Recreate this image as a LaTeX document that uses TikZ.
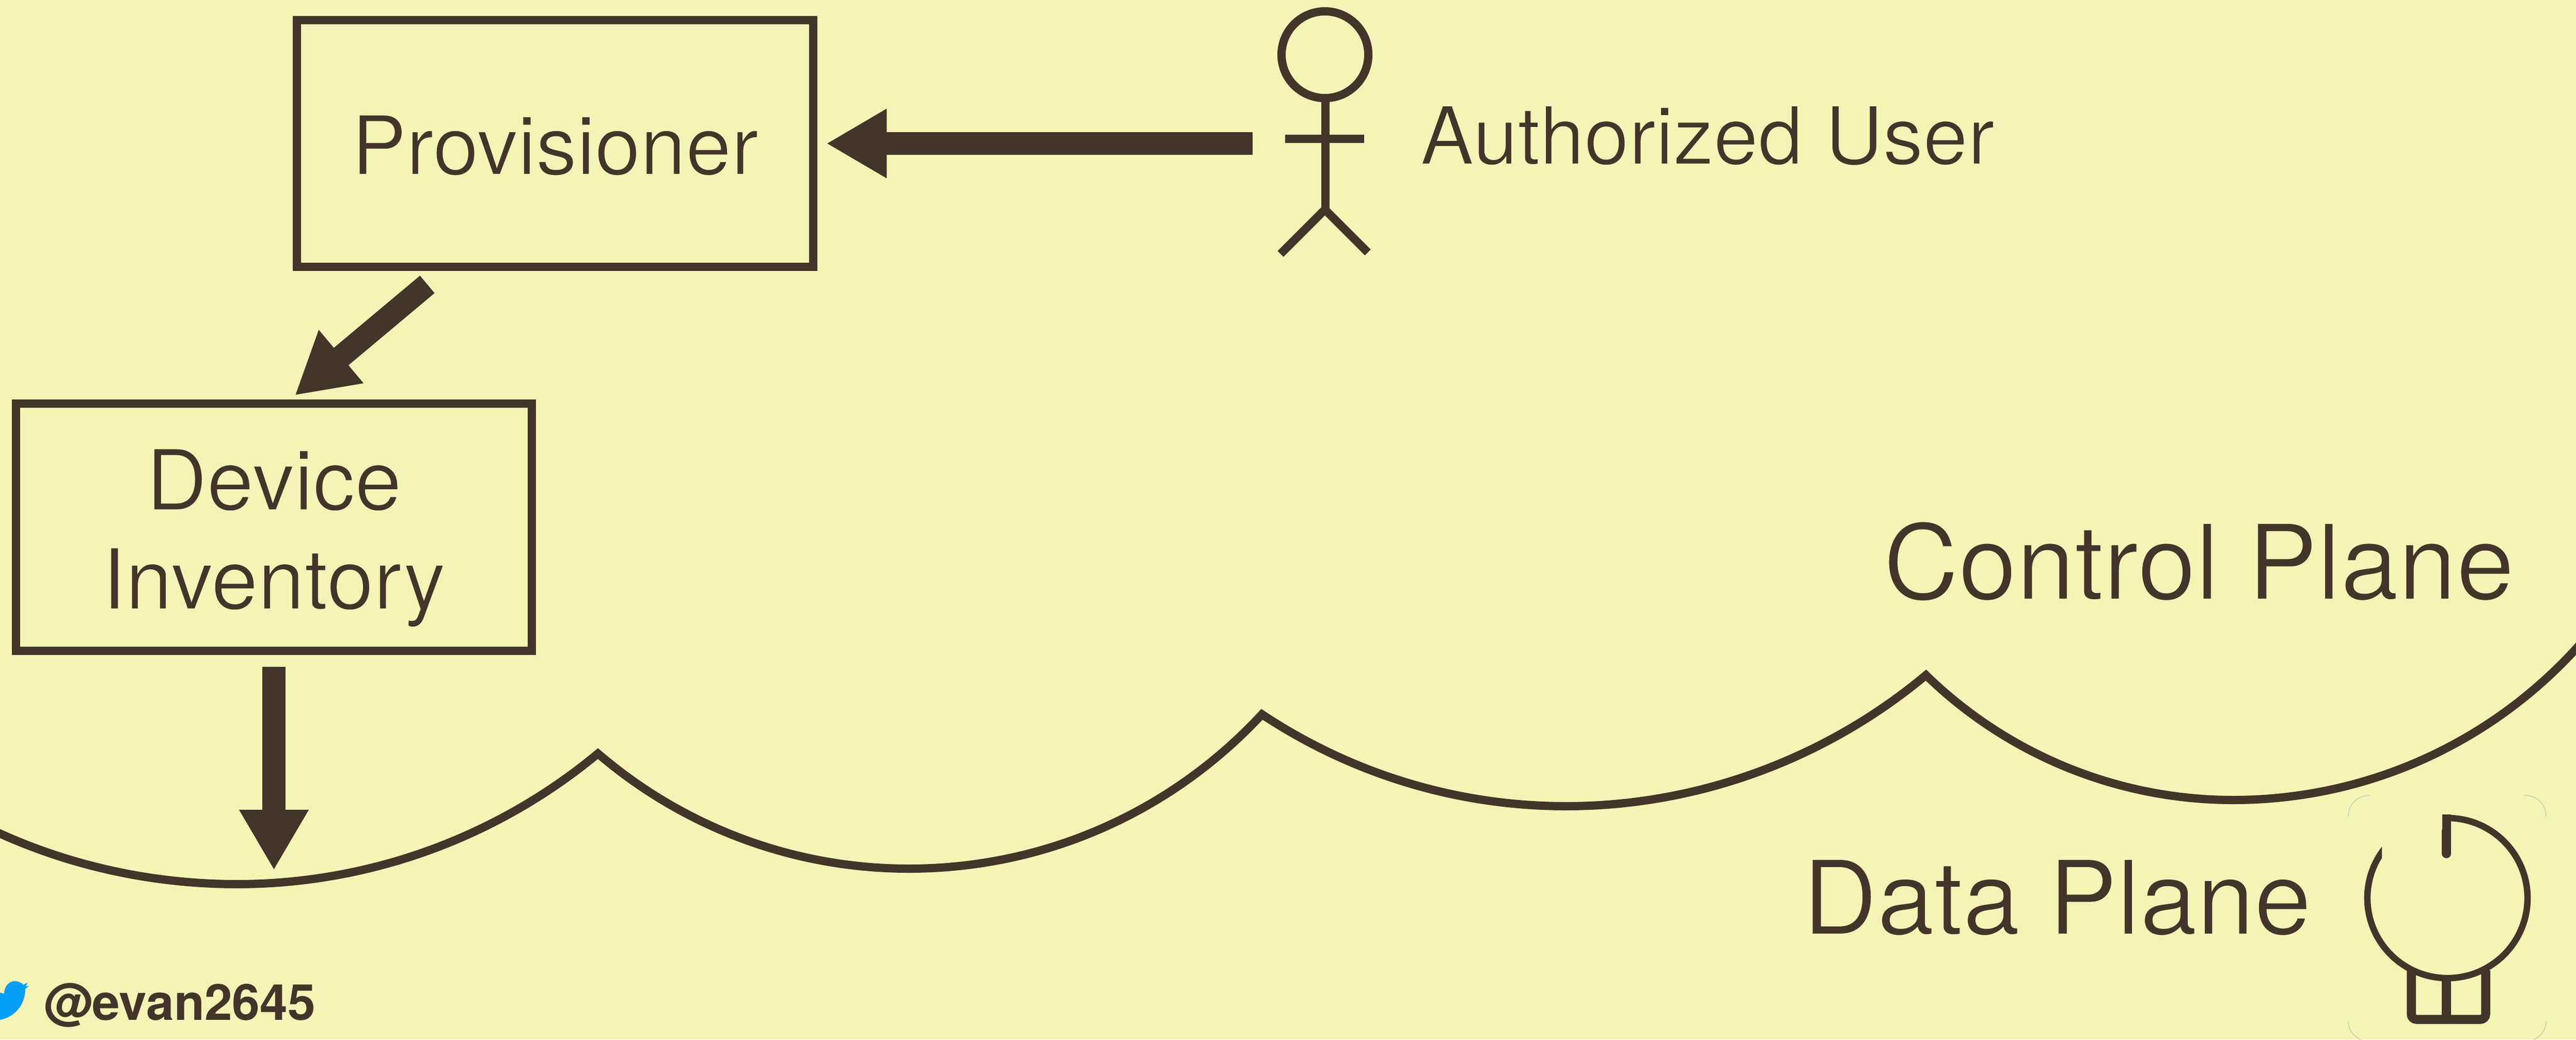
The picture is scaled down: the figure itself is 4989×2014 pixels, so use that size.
\documentclass[tikz,border=0pt]{standalone}
\usepackage{fontspec}
\setmainfont{TeX Gyre Heros}
\usetikzlibrary{arrows.meta}
\definecolor{paper}{RGB}{245,244,183}
\definecolor{ink}{RGB}{67,53,41}
\definecolor{birdblue}{RGB}{6,159,245}
\definecolor{faint}{RGB}{205,205,172}
% thin the strokes of the regular face: glyphs are filled, then edged in the paper colour
\newcommand{\thinned}[2]{\special{pdf:code q 2 Tr #1 w 0.961 0.957 0.718 RG}#2\special{pdf:code Q}}
\tikzset{
  boxnode/.style={draw=ink,line width=.16cm,inner sep=0pt,text=ink},
  label/.style={text=ink,inner sep=0pt,anchor=base west},
  blockarrow/.style={draw=ink,fill=ink,line width=.44cm,-{Triangle[length=1.17cm,width=1.26cm]}},
  inkline/.style={draw=ink,line width=.16cm},
}
\begin{document}
\begin{tikzpicture}[x=.01cm,y=-.01cm]
\useasboundingbox (0,0) rectangle (4989,2014);
\fill[paper] (0,0) rectangle (4989,2014);
% boxes
\node[boxnode,minimum width=10cm,minimum height=4.78cm,text height=1.3cm,text depth=.1cm,font=\fontsize{45pt}{55pt}\selectfont] (prov) at (1075,278)
  {\thinned{0.6}{Provisioner}};
\node[boxnode,minimum width=9.99cm,minimum height=4.79cm,align=center,font=\fontsize{46.2pt}{54.6pt}\selectfont] (dev) at (530.5,1021.5)
  {\rule{0pt}{1.6cm}\thinned{0.6}{Device}\\\thinned{0.6}{Inventory}};
% labels
\node[label] (userlabel) at (2750,318) {\fontsize{44.2pt}{55pt}\selectfont\thinned{0.6}{Authorized User}};
\node[label] (control) at (3647,1161) {\fontsize{57.4pt}{70pt}\selectfont\thinned{0.7}{Control Plane}};
\node[label] (data) at (3491,1810) {\fontsize{56.6pt}{68pt}\selectfont\thinned{0.7}{Data Plane}};
\node[label] (handle) at (84,1976) {\fontsize{27.5pt}{32pt}\selectfont\bfseries @evan2645};
% stick figure
\draw[inkline] (2566,106) circle (.84cm);
\draw[inkline] (2567,190) -- (2567,410);
\draw[inkline] (2489,269) -- (2642,269);
\draw[inkline,miter limit=10] (2480,492) -- (2566,406) -- (2649,489);
% connectors
\coordinate (useredge) at (2426,278);
\coordinate (provout) at (827.5,551);
\coordinate (devin) at (571,766);
\coordinate (cloudpoint) at (530.5,1686);
\draw[blockarrow,shorten >=.17cm] (useredge) -- (prov.east);
\draw[blockarrow] (provout) -- (devin);
\draw[blockarrow,shorten <=.23cm] (dev.south) -- (cloudpoint);
% cloud line
\draw[draw=ink,line width=.16cm,miter limit=10]
  (-60,1588) -- (0,1615) .. controls (144,1680) and (301,1713) .. (459,1713)
  .. controls (714,1713) and (962,1623) .. (1158,1460)
  .. controls (1326,1604) and (1539,1683) .. (1760,1683)
  .. controls (2021,1683) and (2267,1575) .. (2444,1384)
  .. controls (2619,1500) and (2823,1562) .. (3033,1562)
  .. controls (3287,1562) and (3535,1471) .. (3730,1308)
  .. controls (3889,1463) and (4103,1550) .. (4325,1550)
  .. controls (4578,1550) and (4818,1444) .. (4989,1257) -- (5040,1200);
% power icon
\draw[faint,line width=.016cm] (4548,1582) .. controls (4548,1558) and (4566,1541) .. (4590,1541);
\draw[faint,line width=.016cm] (4889,1541) .. controls (4913,1541) and (4931,1558) .. (4931,1582);
\draw[faint,line width=.016cm] (4548,1979) .. controls (4548,1995) and (4558,2008) .. (4572,2014);
\draw[faint,line width=.016cm] (4931,1979) .. controls (4931,1995) and (4921,2008) .. (4907,2014);
\begin{scope}
  \clip (4500,1500) -- (4613,1500) -- (4613,1670) -- (4730,1670) -- (4730,1500) -- (4950,1500) -- (4950,2000) -- (4500,2000) -- cycle;
  \draw[draw=ink,line width=.125cm] (4740,1740) circle (1.55cm);
\end{scope}
\fill[ink] (4729.5,1578) rectangle (4747,1620);
\draw[draw=ink,line width=.175cm,line cap=round] (4738.2,1610) -- (4738.2,1654);
\draw[draw=ink,line width=.175cm,rounded corners=.1cm] (4670,1880) -- (4670,1975) -- (4814,1975) -- (4814,1880);
\draw[draw=ink,line width=.175cm] (4738,1890) -- (4738,1975);
% bird
\fill[birdblue] (-5,1922) -- (8,1925) .. controls (8,1912) and (17,1901) .. (28,1901)
  .. controls (36,1901) and (42,1904) .. (45,1908) -- (53,1904) -- (50,1911) -- (56,1910) -- (49,1916)
  .. controls (49,1945) and (30,1972) .. (-5,1977) -- cycle;
\end{tikzpicture}
\end{document}
